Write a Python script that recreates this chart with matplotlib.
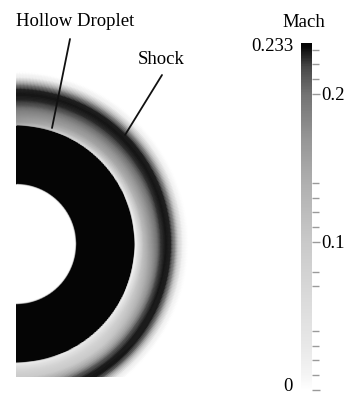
import numpy as np
import matplotlib.pyplot as plt
from matplotlib.colors import LinearSegmentedColormap, Normalize

plt.rcParams['font.family'] = ['Liberation Serif', 'DejaVu Serif']

# radial Mach profiles (r in pixels from droplet centre)
r_nodes = [0, 59.5, 60.5, 118.5, 119.5, 123, 128, 134, 140, 145, 150, 155, 159, 163, 167, 172, 300]
theta_nodes = [-90, -50, 0, 45, 90]
mach_m90 = [0, 0, 0.233, 0.233, 0.02, 0.05, 0.08, 0.10, 0.15, 0.21, 0.228, 0.229, 0.21, 0.12, 0.02, 0, 0]
mach_m50 = [0, 0, 0.233, 0.233, 0.02, 0.05, 0.08, 0.10, 0.15, 0.21, 0.228, 0.229, 0.21, 0.12, 0.02, 0, 0]
mach_0 = [0, 0, 0.233, 0.233, 0.0, 0.05, 0.12, 0.16, 0.19, 0.222, 0.229, 0.226, 0.18, 0.07, 0.01, 0, 0]
mach_45 = [0, 0, 0.233, 0.233, 0.03, 0.10, 0.15, 0.175, 0.205, 0.224, 0.229, 0.227, 0.19, 0.10, 0.015, 0, 0]
mach_90 = [0, 0, 0.233, 0.233, 0.14, 0.165, 0.175, 0.19, 0.215, 0.226, 0.229, 0.226, 0.20, 0.12, 0.02, 0, 0]

vmin, vmax = 0.0, 0.233
major_ticks = [0, 0.1, 0.2]
minor_ticks = [0.01, 0.02, 0.03, 0.04, 0.07, 0.08, 0.11, 0.12, 0.13, 0.14, 0.21, 0.22, 0.23]

cmap = LinearSegmentedColormap.from_list('mach_gray', [
    (0.0, (1.0,) * 3), (0.04, (0.96,) * 3), (0.13, (0.91,) * 3), (0.26, (0.86,) * 3),
    (0.43, (0.79,) * 3), (0.60, (0.69,) * 3), (0.73, (0.59,) * 3),
    (0.86, (0.45,) * 3), (0.94, (0.28,) * 3), (1.0, (0.02,) * 3)])
norm = Normalize(vmin, vmax)

profiles = np.array([mach_m90, mach_m50, mach_0, mach_45, mach_90])
r_f = np.linspace(0, 300, 900)
th_f = np.linspace(-90, 90, 361)
M = np.zeros((len(th_f), len(r_f)))
for i, th in enumerate(th_f):
    prof = [np.interp(th, theta_nodes, profiles[:, j]) for j in range(len(r_nodes))]
    M[i] = np.interp(r_f, r_nodes, prof)
R, TH = np.meshgrid(r_f, np.radians(th_f))
X = R * np.cos(TH)
Y = R * np.sin(TH)

W, H = 346, 396
fig = plt.figure(figsize=(W / 100, H / 100), dpi=100)

ax = fig.add_axes([16 / W, (H - 377) / H, 214 / W, 307 / H])
ax.pcolormesh(X, Y, M, cmap=cmap, norm=norm, shading='gouraud', rasterized=True)
ax.set_xlim(0, 214)
ax.set_ylim(-133, 174)
ax.set_aspect('auto')
ax.axis('off')

ax.text(59, 222, 'Hollow Droplet', fontsize=13.5, ha='center', va='center', clip_on=False)
ax.annotate('', xy=(36, 116), xytext=(54, 205), annotation_clip=False,
            arrowprops=dict(arrowstyle='-', lw=1.3, color='#111111', shrinkA=0, shrinkB=0))
ax.text(145, 184, 'Shock', fontsize=13.5, ha='center', va='center', clip_on=False)
ax.annotate('', xy=(109, 109), xytext=(146, 169), annotation_clip=False,
            arrowprops=dict(arrowstyle='-', lw=1.3, color='#111111', shrinkA=0, shrinkB=0))

cax = fig.add_axes([301 / W, 0.0, 11 / W, (H - 43) / H])
grad = np.linspace(-0.0041, 0.2344, 400).reshape(-1, 1)
cax.imshow(grad, cmap=cmap, norm=norm, aspect='auto', origin='lower',
           extent=[0, 1, -0.0041, 0.2344])
cax.set_ylim(-0.0041, 0.2344)
cax.set_xlim(0, 1)
for s in cax.spines.values():
    s.set_visible(False)
cax.set_xticks([])
cax.yaxis.tick_right()
cax.set_yticks(major_ticks)
cax.set_yticklabels(['', '0.1', '0.2'])
cax.set_yticks(minor_ticks, minor=True)
cax.tick_params(axis='y', which='major', length=6, width=1, color='#9a9a9a',
                labelsize=13.5, pad=1)
cax.tick_params(axis='y', which='minor', length=5, width=1, color='#9a9a9a')
cax.text(0.3, 0.2485, 'Mach', fontsize=13.5, ha='center', va='center', clip_on=False)
cax.text(-0.7, 0.2317, '0.233', fontsize=13.5, ha='right', va='center', clip_on=False)
cax.text(-1.2, -0.0036, '0', fontsize=13.5, ha='center', va='bottom', clip_on=False)

fig.savefig('out.png', dpi=100)
